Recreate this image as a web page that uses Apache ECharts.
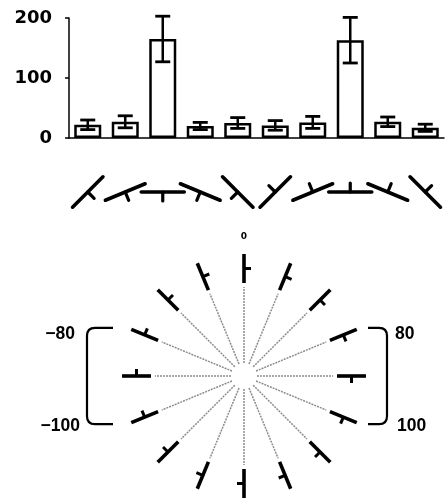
<!DOCTYPE html>
<html>
<head>
<meta charset="utf-8">
<script src="https://cdn.jsdelivr.net/npm/echarts@6/dist/echarts.min.js"></script>
<style>
  html, body { margin: 0; padding: 0; background: #fff; }
  #chart { width: 445px; height: 500px; }
</style>
</head>
<body>
<div id="chart"></div>
<script>
// Stimulus conditions: a T-junction bar at five tilts, stem below then stem above
const stimuli = ['L45-down', 'L22-down', 'L0-down', 'R22-down', 'R45-down',
                 'L45-up', 'L22-up', 'L0-up', 'R22-up', 'R45-up'];
// Mean response per condition and its error
const responses = [22, 27, 165, 20, 25, 21, 26, 163, 27, 17];
const errors = [8, 10, 38, 6, 9, 8, 10, 38, 8, 6];
const yTicks = [0, 100, 200];

// Tilt of each stimulus bar (degrees, counter-clockwise) and stem side (+1 below, -1 above)
const glyphTilt = [45, 22.5, 0, -22.5, -45, 45, 22.5, 0, -22.5, -45];
const glyphSide = [1, 1, 1, 1, 1, -1, -1, -1, -1, -1];

// Radial test set: one stimulus every 22.5 degrees, 0 at the top
const spokeAngles = [0, 22.5, 45, 67.5, 90, 112.5, 135, 157.5,
                     180, 202.5, 225, 247.5, 270, 292.5, 315, 337.5];
const spokeLabels = ['0'];

// Bracketed angle ranges and their end labels
const bracketFrom = [67.5, 292.5];
const bracketTo = [112.5, 247.5];
const bracketFromLabel = ['80', '\u221280'];
const bracketToLabel = ['100', '\u2212100'];

// Drawing geometry (pixels)
const GEOM = {
  spokeIn: 13, spokeOut: 89,
  glyphIn: 93, glyphOut: 122, radialStem: 7,
  barGlyphHalf: 21.5, barGlyphStem: 9,
  bracket: [ { endX: 124, armX: 143, curve: 8, labelGap: 8, botShift: 2 },
             { endX: 131, armX: 157, curve: 8, labelGap: 12, botShift: 5 } ]
};

const chart = echarts.init(document.getElementById('chart'), null, { renderer: 'canvas' });

const labelFont = { fontFamily: 'DejaVu Sans', fontWeight: 'bold', fontSize: 18, color: '#000' };
const rangeFont = "bold 17.5px 'Liberation Sans', Arial, sans-serif";

function errorBar(params, api) {
  const i = api.value(0);
  const lo = api.coord([i, api.value(1)]);
  const hi = api.coord([i, api.value(2)]);
  const cap = 7.5;
  return {
    type: 'group',
    children: [
      { type: 'line', shape: { x1: lo[0], y1: lo[1], x2: hi[0], y2: hi[1] },
        style: { stroke: '#000', lineWidth: 2.5 } },
      { type: 'line', shape: { x1: lo[0] - cap, y1: lo[1], x2: lo[0] + cap, y2: lo[1] },
        style: { stroke: '#000', lineWidth: 2.8 } },
      { type: 'line', shape: { x1: hi[0] - cap, y1: hi[1], x2: hi[0] + cap, y2: hi[1] },
        style: { stroke: '#000', lineWidth: 2.8 } }
    ]
  };
}

function barGlyph(params, api) {
  const i = api.value(0);
  const c = api.coord([i, 0]);
  const a = glyphTilt[i] * Math.PI / 180;
  const s = glyphSide[i];
  const dx = Math.cos(a), dy = -Math.sin(a);
  const nx = Math.sin(a) * s, ny = Math.cos(a) * s;
  const h = GEOM.barGlyphHalf, st = GEOM.barGlyphStem;
  return {
    type: 'group',
    children: [
      { type: 'line', shape: { x1: c[0] - dx * h, y1: c[1] - dy * h, x2: c[0] + dx * h, y2: c[1] + dy * h },
        style: { stroke: '#000', lineWidth: 3.6, lineCap: 'round' } },
      { type: 'line', shape: { x1: c[0], y1: c[1], x2: c[0] + nx * st, y2: c[1] + ny * st },
        style: { stroke: '#000', lineWidth: 3.2, lineCap: 'round' } }
    ]
  };
}

function radialGlyph(params, api) {
  const ang = api.value(1);
  const s0 = api.coord([GEOM.spokeIn, ang]);
  const s1 = api.coord([GEOM.spokeOut, ang]);
  const g0 = api.coord([GEOM.glyphIn, ang]);
  const g1 = api.coord([GEOM.glyphOut, ang]);
  const gm = api.coord([(GEOM.glyphIn + GEOM.glyphOut) / 2, ang]);
  const len = Math.hypot(g1[0] - g0[0], g1[1] - g0[1]);
  const ux = (g1[0] - g0[0]) / len, uy = (g1[1] - g0[1]) / len;
  // stem points in the clockwise direction
  const tx = -uy, ty = ux;
  const children = [
    { type: 'line', shape: { x1: s0[0], y1: s0[1], x2: s1[0], y2: s1[1] },
      style: { stroke: '#8c8c8c', lineWidth: 1.5, lineDash: [2, 1] } },
    { type: 'line', shape: { x1: g0[0], y1: g0[1], x2: g1[0], y2: g1[1] },
      style: { stroke: '#000', lineWidth: 3.6 } },
    { type: 'line', shape: { x1: gm[0], y1: gm[1], x2: gm[0] + tx * GEOM.radialStem, y2: gm[1] + ty * GEOM.radialStem },
      style: { stroke: '#000', lineWidth: 3 } }
  ];
  const lbl = spokeLabels[params.dataIndex];
  if (lbl) {
    const p = api.coord([GEOM.glyphOut + 17, ang]);
    children.push({ type: 'text', x: p[0], y: p[1],
      style: { text: lbl, font: "bold 9px 'DejaVu Sans', sans-serif", fill: '#000', align: 'center', verticalAlign: 'middle' } });
  }
  return { type: 'group', children: children };
}

function bracket(params, api) {
  const k = params.dataIndex;
  const g = GEOM.bracket[k];
  const c = api.coord([0, 0]);
  // bracket ends sit level with the outer end of the bounding stimuli
  const e1 = api.coord([GEOM.glyphOut + 4, api.value(1)]);
  const e2 = api.coord([GEOM.glyphOut + 4, api.value(2)]);
  const side = e1[0] > c[0] ? 1 : -1;
  const ex = c[0] + side * g.endX;
  const vx = c[0] + side * g.armX;
  const r = g.curve;
  const top = Math.min(e1[1], e2[1]), bot = Math.max(e1[1], e2[1]);
  const path = 'M' + ex + ' ' + top +
    ' L' + (vx - side * r) + ' ' + top +
    ' Q' + vx + ' ' + top + ' ' + vx + ' ' + (top + r) +
    ' L' + vx + ' ' + (bot - r) +
    ' Q' + vx + ' ' + bot + ' ' + (vx - side * r) + ' ' + bot +
    ' L' + ex + ' ' + bot;
  const topLabel = e1[1] < e2[1] ? bracketFromLabel[k] : bracketToLabel[k];
  const botLabel = e1[1] < e2[1] ? bracketToLabel[k] : bracketFromLabel[k];
  const lx = vx + side * g.labelGap;
  const align = side > 0 ? 'left' : 'right';
  return {
    type: 'group',
    children: [
      { type: 'path', shape: { pathData: path },
        style: { stroke: '#000', lineWidth: 2.2, fill: null } },
      { type: 'text', x: lx, y: top + 6,
        style: { text: topLabel, font: rangeFont, fill: '#000', align: align, verticalAlign: 'middle' } },
      { type: 'text', x: lx + side * g.botShift * (side > 0 ? 1 : -1), y: bot + 2,
        style: { text: botLabel, font: rangeFont, fill: '#000', align: align, verticalAlign: 'middle' } }
    ]
  };
}

chart.setOption({
  animation: false,
  backgroundColor: '#fff',
  grid: [
    { left: 69, top: 18, width: 375, height: 120 },
    { left: 69, top: 170, width: 375, height: 44 }
  ],
  xAxis: [
    { type: 'category', gridIndex: 0, data: stimuli,
      axisLine: { lineStyle: { color: '#000', width: 1.5 } },
      axisTick: { show: false }, axisLabel: { show: false }, splitLine: { show: false } },
    { type: 'category', gridIndex: 1, data: stimuli, show: false }
  ],
  yAxis: [
    { type: 'value', gridIndex: 0, min: yTicks[0], max: yTicks[yTicks.length - 1], interval: 100,
      axisLine: { show: true, lineStyle: { color: '#000', width: 1.5 } },
      axisTick: { show: true, length: 4, lineStyle: { color: '#000', width: 1.5 } },
      axisLabel: Object.assign({ margin: 17 }, labelFont),
      splitLine: { show: false } },
    { type: 'value', gridIndex: 1, min: -1, max: 1, show: false }
  ],
  polar: { center: [244, 376], radius: 150 },
  radiusAxis: { type: 'value', min: 0, max: 150, show: false,
    axisLine: { show: false }, axisTick: { show: false }, axisLabel: { show: false }, splitLine: { show: false } },
  angleAxis: { type: 'value', min: 0, max: 360, startAngle: 90, clockwise: true, show: false,
    axisLine: { show: false }, axisTick: { show: false }, axisLabel: { show: false }, splitLine: { show: false } },
  series: [
    { type: 'bar', xAxisIndex: 0, yAxisIndex: 0, data: responses, barWidth: 27,
      itemStyle: { color: '#fff', borderColor: '#000', borderWidth: 2.5 }, z: 2 },
    { type: 'custom', xAxisIndex: 0, yAxisIndex: 0, z: 3,
      data: responses.map((v, i) => [i, v - errors[i], v + errors[i]]),
      renderItem: errorBar },
    { type: 'custom', xAxisIndex: 1, yAxisIndex: 1,
      data: stimuli.map((s, i) => [i, 0]),
      renderItem: barGlyph },
    { type: 'custom', coordinateSystem: 'polar',
      data: spokeAngles.map(a => [0, a]),
      renderItem: radialGlyph },
    { type: 'custom', coordinateSystem: 'polar',
      data: bracketFrom.map((f, i) => [0, f, bracketTo[i]]),
      renderItem: bracket }
  ]
});
</script>
</body>
</html>
